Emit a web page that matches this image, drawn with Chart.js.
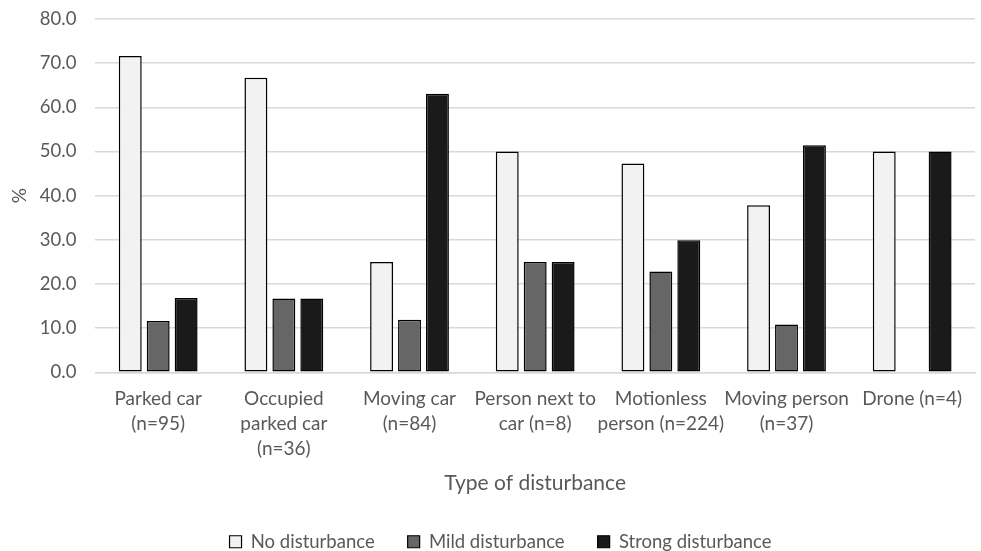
<!DOCTYPE html>
<html>
<head>
<meta charset="utf-8">
<script src="https://cdn.jsdelivr.net/npm/chart.js@4"></script>
<style>
  body { margin: 0; background: #fff; }
  #wrap { width: 981px; height: 551px; }
</style>
</head>
<body>
<div id="wrap"><canvas id="grafico" width="981" height="551"></canvas></div>
<script>
// disturbance categories and % per response type
const categorias = [
  ['Parked car', '(n=95)'],
  ['Occupied', 'parked car', '(n=36)'],
  ['Moving car', '(n=84)'],
  ['Person next to', 'car (n=8)'],
  ['Motionless', 'person (n=224)'],
  ['Moving person', '(n=37)'],
  ['Drone (n=4)']
];
const semPerturbacao = [71.6, 66.7, 25.0, 50.0, 47.3, 37.8, 50.0];
const perturbacaoLeve = [11.6, 16.7, 11.9, 25.0, 22.8, 10.8, 0];
const perturbacaoForte = [16.8, 16.7, 63.1, 25.0, 29.9, 51.4, 50.0];
const ticksY = [0, 10, 20, 30, 40, 50, 60, 70, 80];

const fonte = 'Lato, "Open Sans", sans-serif';
const corTexto = '#595959';

function serie(nome, dados, cor) {
  return {
    label: nome,
    data: dados,
    backgroundColor: cor,
    borderColor: '#000',
    borderWidth: ctx => (ctx.raw === 0 ? 0 : 1.5),
    borderSkipped: false,
    barPercentage: 0.82,
    categoryPercentage: 0.667
  };
}

new Chart(document.getElementById('grafico'), {
  type: 'bar',
  data: {
    labels: categorias,
    datasets: [
      serie('No disturbance', semPerturbacao, '#f2f2f2'),
      serie('Mild disturbance', perturbacaoLeve, '#666666'),
      serie('Strong disturbance', perturbacaoForte, '#1a1a1a')
    ]
  },
  options: {
    responsive: false,
    animation: false,
    layout: { padding: { top: 19, right: 6, left: 26, bottom: -10 } },
    plugins: {
      tooltip: { enabled: false },
      legend: {
        position: 'bottom',
        labels: {
          color: corTexto,
          font: { family: fonte, size: 18.5 },
          boxWidth: 12,
          boxHeight: 12,
          padding: 33,
          generateLabels: chart => chart.data.datasets.map((d, i) => ({
            text: d.label,
            fillStyle: d.backgroundColor,
            strokeStyle: '#000',
            lineWidth: 1.2,
            fontColor: corTexto,
            datasetIndex: i
          }))
        }
      }
    },
    scales: {
      x: {
        grid: { display: false, drawTicks: false },
        border: { color: '#d9d9d9', width: 1.5 },
        ticks: {
          color: corTexto,
          font: { family: fonte, size: 19, lineHeight: 1.316 },
          padding: 14.5,
          maxRotation: 0,
          autoSkip: false
        },
        title: {
          display: true,
          text: 'Type of disturbance',
          color: corTexto,
          font: { family: fonte, size: 21 },
          padding: { top: -6, bottom: 4 }
        }
      },
      y: {
        min: 0,
        max: 80,
        afterBuildTicks: axis => { axis.ticks = ticksY.map(v => ({ value: v })); },
        // top gap is set by layout.padding, not by the tick padding
        afterFit: axis => { axis.paddingTop = 0; },
        grid: { color: '#d9d9d9', lineWidth: 1.5, drawTicks: false },
        border: { display: false },
        ticks: {
          color: corTexto,
          font: { family: fonte, size: 18.5 },
          padding: 19,
          callback: v => v.toFixed(1)
        },
        title: {
          display: true,
          text: '%',
          color: corTexto,
          font: { family: fonte, size: 19 },
          padding: { top: -18, bottom: -10 }
        }
      }
    }
  }
});
</script>
</body>
</html>
